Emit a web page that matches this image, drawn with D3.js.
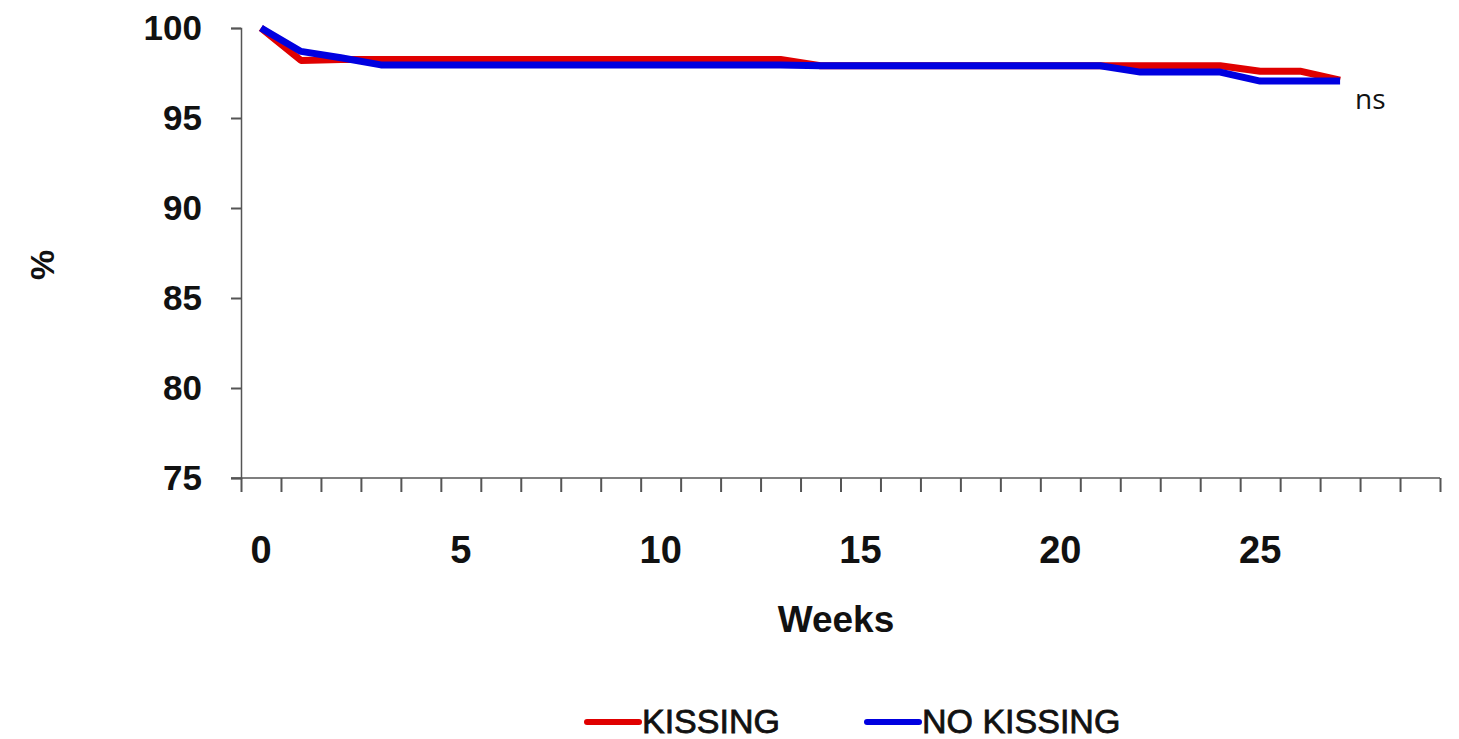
<!DOCTYPE html>
<html>
<head>
<meta charset="utf-8">
<script src="https://cdn.jsdelivr.net/npm/d3@7"></script>
<style>
  body { margin: 0; background: #fff; }
  svg text { font-family: "Liberation Sans", Arial, sans-serif; fill: #111; }
</style>
</head>
<body>
<div id="container"></div>
<script>
// weeks 0..27
var weeks = d3.range(0, 28);
var kissing = [100, 98.2, 98.25, 98.25, 98.25, 98.25, 98.25, 98.25, 98.25, 98.25, 98.25, 98.25, 98.25, 98.25,
               97.9, 97.9, 97.9, 97.9, 97.9, 97.9, 97.9, 97.9, 97.9, 97.9, 97.9, 97.6, 97.6, 97.1];
var noKissing = [100, 98.7, 98.35, 97.95, 97.95, 97.95, 97.95, 97.95, 97.95, 97.95, 97.95, 97.95, 97.95, 97.95,
                 97.9, 97.9, 97.9, 97.9, 97.9, 97.9, 97.9, 97.9, 97.55, 97.55, 97.55, 97.05, 97.05, 97.05];
var xTickLabels = [0, 5, 10, 15, 20, 25];
var yTickLabels = [75, 80, 85, 90, 95, 100];
var seriesNames = ["KISSING", "NO KISSING"];
var seriesColors = ["#e00000", "#0000e0"];

var W = 1459, H = 739;
var svg = d3.select("#container").append("svg")
    .attr("width", W).attr("height", H);

// category style axis: each week is a slot, ticks on slot edges
var x = d3.scaleLinear().domain([-0.5, 29.5]).range([241, 1440]);
var y = d3.scaleLinear().domain([75, 100]).range([478, 28]);

// y axis
var yAxis = svg.append("g").attr("transform", "translate(241,0)")
    .call(d3.axisLeft(y).tickValues(yTickLabels).tickSize(10).tickPadding(29));
yAxis.select(".domain").attr("stroke", "#555").attr("stroke-width", 1.5);
yAxis.selectAll(".tick line").attr("stroke", "#555").attr("stroke-width", 2);
yAxis.selectAll(".tick text")
    .style("font-size", "35px").style("font-weight", "bold")
    .attr("fill", "#111");

// x axis: ticks on boundaries, labels on centres
var xg = svg.append("g").attr("transform", "translate(0,478)");
xg.append("line").attr("x1", 231).attr("x2", 1440)
    .attr("stroke", "#555").attr("stroke-width", 1.5);
xg.call(d3.axisBottom(x).tickValues(d3.range(-0.5, 30, 1)).tickSize(14).tickFormat(""));
xg.select(".domain").remove();
xg.selectAll(".tick line").attr("stroke", "#555").attr("stroke-width", 2);
xg.selectAll(".lbl").data(xTickLabels).enter().append("text")
    .attr("class", "lbl")
    .attr("x", function (d) { return x(d); })
    .attr("y", 85)
    .attr("text-anchor", "middle")
    .style("font-size", "38px").style("font-weight", "bold")
    .text(function (d) { return d; });

// axis titles
svg.append("text").attr("x", 836).attr("y", 632)
    .attr("text-anchor", "middle")
    .style("font-size", "37px").style("font-weight", "bold")
    .text("Weeks");
svg.append("text")
    .attr("transform", "translate(54,265) rotate(-90)")
    .attr("text-anchor", "middle")
    .style("font-size", "34px").style("font-weight", "bold")
    .text("%");

// lines
var line = d3.line()
    .x(function (d, i) { return x(weeks[i]); })
    .y(function (d) { return y(d); });

[kissing, noKissing].forEach(function (s, i) {
    svg.append("path")
        .datum(s)
        .attr("fill", "none")
        .attr("stroke", seriesColors[i])
        .attr("stroke-width", 7)
        .attr("stroke-linejoin", "round")
        .attr("d", line);
});

svg.append("text").attr("x", 1355).attr("y", 109)
    .style("font-family", "'Open Sans', sans-serif")
    .style("font-size", "28px")
    .attr("fill", "#333")
    .text("ns");

// legend
var legendX = [587, 867];
seriesNames.forEach(function (n, i) {
    var g = svg.append("g").attr("transform", "translate(" + legendX[i] + ",722)");
    g.append("line").attr("x1", 0).attr("x2", 52)
        .attr("stroke", seriesColors[i]).attr("stroke-width", 6)
        .attr("stroke-linecap", "round");
    g.append("text").attr("x", 55).attr("y", 11)
        .style("font-size", "34px")
        .attr("stroke", "#111").attr("stroke-width", 0.8)
        .text(n);
});
</script>
</body>
</html>
